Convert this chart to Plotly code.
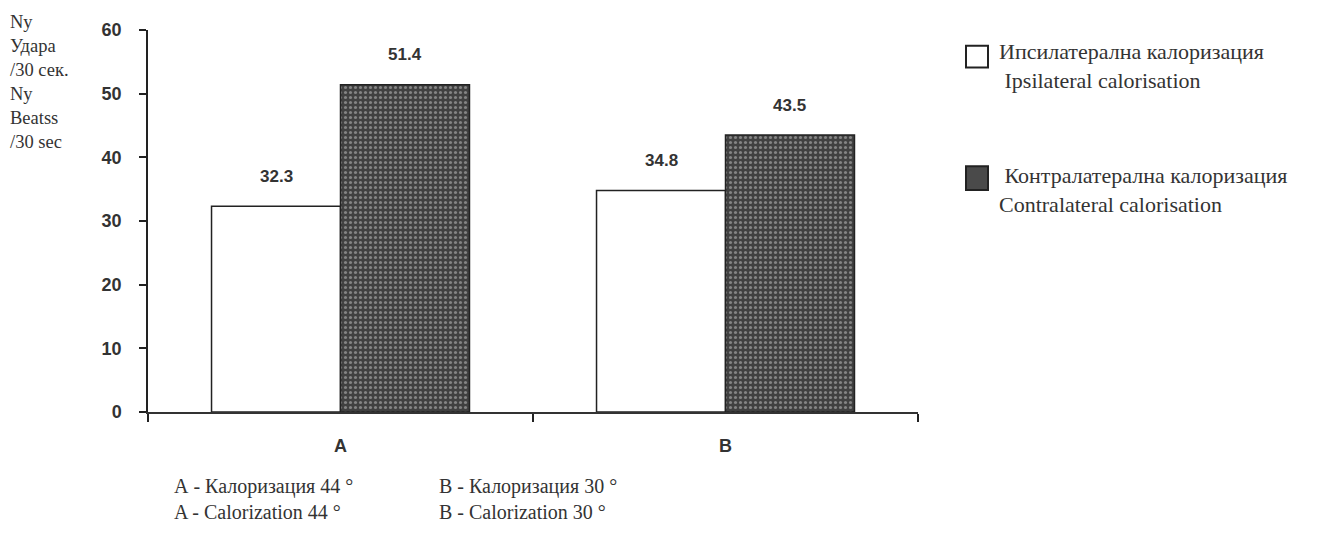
import plotly.graph_objects as go

categories = ["A", "B"]
ipsi_values = [32.3, 34.8]
contra_values = [51.4, 43.5]
ipsi_lines = ["Ипсилатерална калоризация", "\u00a0Ipsilateral calorisation"]
contra_lines = ["\u00a0Контралатерална калоризация", "Contralateral calorisation"]
y_ticks = [0, 10, 20, 30, 40, 50, 60]
y_title_lines = ["Ny", "Удара", "/30 сек.", "Ny", "Beatss", "/30 sec"]
footnote_bg = ["А - Калоризация 44 °", "В - Калоризация 30 °"]
footnote_en = ["A - Calorization 44 °", "B - Calorization 30 °"]

serif = "Liberation Serif"
sans = "Liberation Sans"
txt = "#333"

# plot area in screenshot pixels: x 148..918, y 25..412
def px(X):
    return (X - 148) / 770.0

def py(Y):
    return (412 - Y) / 387.0

fig = go.Figure()
fig.add_trace(go.Bar(
    x=categories, y=ipsi_values, name=ipsi_lines[1].strip(),
    marker=dict(color="white", line=dict(color="#222", width=1.5)),
))
fig.add_trace(go.Bar(
    x=categories, y=contra_values, name=contra_lines[1],
    marker=dict(color="#4a4a4a", line=dict(color="#222", width=1.5),
                pattern=dict(shape=".", fgcolor="#c8c8c8", bgcolor="#404040",
                             size=5, solidity=0.3)),
))

# value labels
for vals, off in ((ipsi_values, -0.1675), (contra_values, 0.1675)):
    for i, v in enumerate(vals):
        fig.add_annotation(x=i + off, y=v, text=f"{v}", showarrow=False,
                           yshift=30, yanchor="middle",
                           font=dict(family=sans, size=17, color=txt, weight="bold"))

# y-axis title block
fig.add_annotation(xref="paper", yref="paper", x=px(8), y=py(5), xanchor="left", yanchor="top",
                   text="<br>".join(y_title_lines), showarrow=False, align="left",
                   font=dict(family=serif, size=18.5, color=txt))

# footnotes
for j, X in enumerate((172, 437)):
    fig.add_annotation(xref="paper", yref="paper", x=px(X), y=py(474),
                       xanchor="left", yanchor="top", showarrow=False, align="left",
                       text=footnote_bg[j] + "<br>" + footnote_en[j],
                       font=dict(family=serif, size=20, color=txt))

# custom legend
legend_items = [
    (ipsi_lines, "white", 41, 63, 61),
    (contra_lines, "#4a4a4a", 163, 187, 187),
]
for lines, fill, y0, y1, yc in legend_items:
    fig.add_shape(type="rect", xref="paper", yref="paper",
                  x0=px(966), x1=px(988), y0=py(y1), y1=py(y0),
                  fillcolor=fill, line=dict(color="#222", width=2))
    fig.add_annotation(xref="paper", yref="paper", x=px(997), y=py(yc),
                       xanchor="left", yanchor="middle", showarrow=False, align="left",
                       text="<br>".join(lines),
                       font=dict(family=serif, size=22, color=txt))

fig.update_layout(
    width=1340, height=551,
    margin=dict(l=140, r=430, t=17, b=147),
    paper_bgcolor="white", plot_bgcolor="white",
    barmode="group", bargap=0.33, bargroupgap=0,
    showlegend=False,
    xaxis=dict(type="category", range=[-0.5, 1.5], tickson="boundaries",
               ticks="outside", ticklen=8, tickcolor="#222", tickwidth=1.5,
               showline=True, linecolor="#333", linewidth=1.5,
               showgrid=False, zeroline=False,
               tickfont=dict(family=sans, size=18, color=txt, weight="bold"),
               ticklabelstandoff=17),
    yaxis=dict(range=[0, 60], tickvals=y_ticks, ticks="outside", ticklen=7,
               tickcolor="#222", tickwidth=1.5,
               showline=True, linecolor="#222", linewidth=1.5,
               showgrid=False, zeroline=False,
               tickfont=dict(family=sans, size=18, color=txt, weight="bold"),
               ticklabelstandoff=14),
)

fig.write_html("out.html")
